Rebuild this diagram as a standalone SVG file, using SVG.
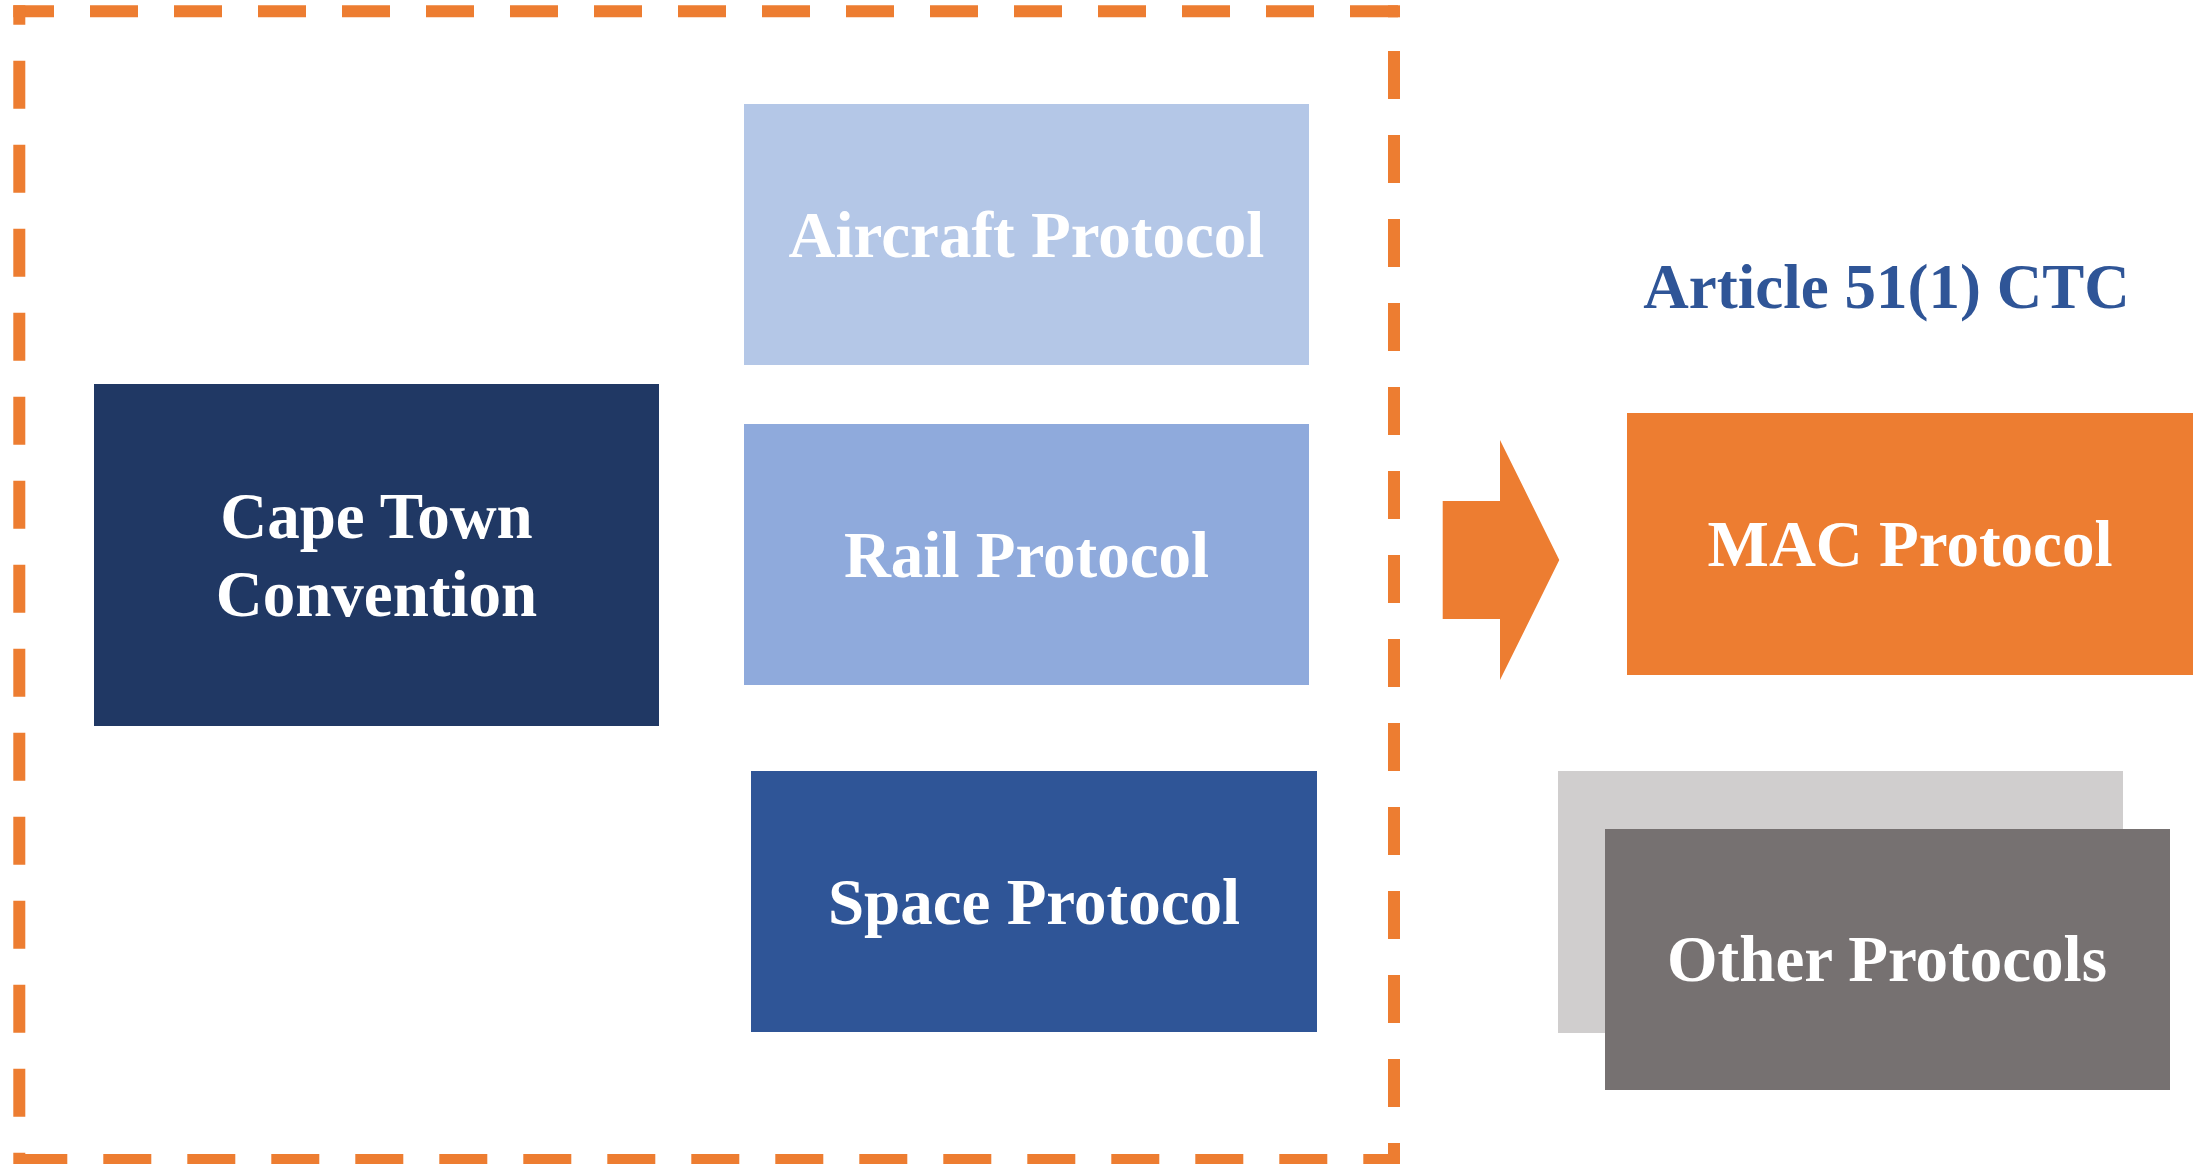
<svg xmlns="http://www.w3.org/2000/svg" width="2201" height="1164" viewBox="0 0 2201 1164">
  <style>
    .lbl { font-family: "Liberation Serif", "Times New Roman", serif; font-weight: bold; font-size: 65px; fill: #FFFFFF; text-anchor: middle; }
    .title { font-family: "Liberation Serif", "Times New Roman", serif; font-weight: bold; font-size: 63px; fill: #2F5597; text-anchor: middle; }
    .dash { stroke: #ED7D31; stroke-width: 12; stroke-dasharray: 48 36; fill: none; stroke-linecap: butt; }
  </style>
  <rect x="0" y="0" width="2201" height="1164" fill="#FFFFFF"/>
  <g id="boundary">
    <line class="dash" x1="13.3" y1="11.3" x2="1400" y2="11.3" stroke-dashoffset="7.3"/>
    <line class="dash" x1="19.3" y1="5.3" x2="19.3" y2="1166" stroke-dashoffset="28.6"/>
    <line class="dash" x1="1394" y1="51" x2="1394" y2="1166"/>
    <line class="dash" x1="1394" y1="5.3" x2="1394" y2="17.3" stroke-dasharray="none"/>
    <line class="dash" x1="19.3" y1="1160" x2="1400" y2="1160"/>
  </g>
  <g id="cape-town">
    <rect x="94" y="384" width="565" height="342" fill="#203864"/>
    <text class="lbl" x="376.5" y="538">Cape Town</text>
    <text class="lbl" x="376.5" y="616">Convention</text>
  </g>
  <g id="aircraft">
    <rect x="744" y="104" width="565" height="261" fill="#B4C7E7"/>
    <text class="lbl" x="1026.5" y="257">Aircraft Protocol</text>
  </g>
  <g id="rail">
    <rect x="744" y="424" width="565" height="261" fill="#8FAADC"/>
    <text class="lbl" x="1026.5" y="577">Rail Protocol</text>
  </g>
  <g id="space">
    <rect x="751" y="771" width="566" height="261" fill="#2F5597"/>
    <text class="lbl" x="1034" y="924">Space Protocol</text>
  </g>
  <g id="article-title">
    <text class="title" x="1886.5" y="308">Article 51(1) CTC</text>
  </g>
  <g id="connectors">
    <polygon points="1442.7,501 1500,501 1500,440 1559.3,560 1500,680 1500,619 1442.7,619" fill="#ED7D31"/>
  </g>
  <g id="mac">
    <rect x="1627" y="413" width="566" height="262" fill="#ED7D31"/>
    <text class="lbl" x="1910" y="566">MAC Protocol</text>
  </g>
  <g id="other">
    <rect x="1558" y="771" width="565" height="262" fill="#D0CECE"/>
    <rect x="1605" y="829" width="565" height="261" fill="#767171"/>
    <text class="lbl" x="1887" y="981">Other Protocols</text>
  </g>
</svg>
